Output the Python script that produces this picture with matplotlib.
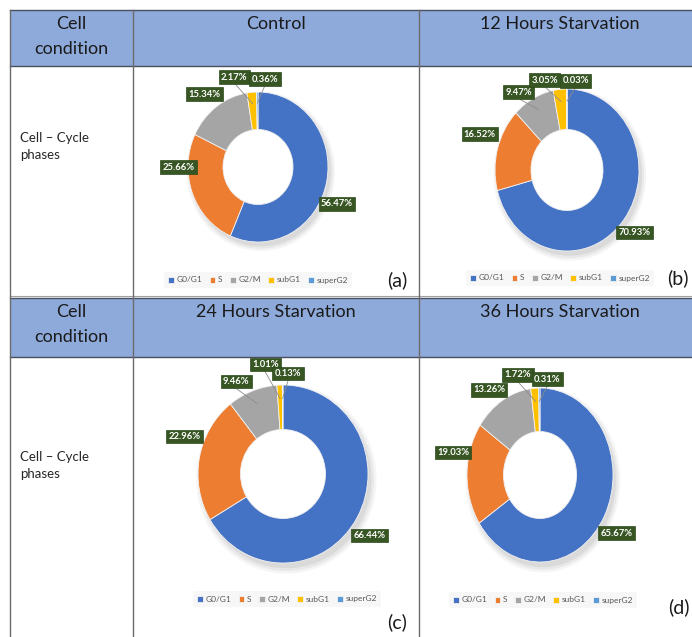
import numpy as np
import matplotlib
matplotlib.use('Agg')
from matplotlib import pyplot as plt
from matplotlib.patches import Rectangle, Ellipse

plt.rcParams['font.family'] = ['Lato', 'DejaVu Sans']

# cell-cycle phase distribution (%), one list per condition
phases = ['G0/G1', 'S', 'G2/M', 'subG1', 'superG2']
control = [56.47, 25.66, 15.34, 2.17, 0.36]
starv12 = [70.93, 16.52, 9.47, 3.05, 0.03]
starv24 = [66.44, 22.96, 9.46, 1.01, 0.13]
starv36 = [65.67, 19.03, 13.26, 1.72, 0.31]
titles = ['Control', '12 Hours Starvation', '24 Hours Starvation', '36 Hours Starvation']
tags = ['(a)', '(b)', '(c)', '(d)']

colors = ['#4472C4', '#ED7D31', '#A5A5A5', '#FFC000', '#5B9BD5']
W, H = 692, 637

# panel layout in pixels: donut centre, radii (x, y), legend centre, tag position
panels = [
    dict(c=(258, 167), r=(70, 75), leg=(258, 280), tag=(397, 280)),
    dict(c=(567, 170), r=(72, 81), leg=(560, 278), tag=(678, 278)),
    dict(c=(283, 474), r=(85, 89), leg=(287, 599), tag=(397, 622)),
    dict(c=(540, 475), r=(73, 87), leg=(543, 600), tag=(679, 607)),
]
# data-label placement, in units of the donut radius
label_pos = [
    [(1.13, -0.49), (-1.14, 0.0), (-0.76, 0.97), (-0.34, 1.20), (0.10, 1.17)],
    [(0.94, -0.77), (-1.21, 0.44), (-0.67, 0.96), (-0.31, 1.11), (0.12, 1.10)],
    [(1.02, -0.69), (-1.16, 0.42), (-0.55, 1.04), (-0.21, 1.23), (0.06, 1.13)],
    [(1.05, -0.67), (-1.19, 0.26), (-0.70, 0.98), (-0.30, 1.15), (0.10, 1.10)],
]


def px_rect(x, y, w, h):
    return [x / W, 1 - (y + h) / H, w / W, h / H]


fig = plt.figure(figsize=(W / 100, H / 100), dpi=100)
fig.patch.set_facecolor('white')

# ---- table background / grid ----
tb = fig.add_axes([0, 0, 1, 1])
tb.set_xlim(0, W)
tb.set_ylim(H, 0)
tb.axis('off')

hdr = '#8EAADB'
line = '#4a4f5c'
for y0, y1 in [(10, 66), (298, 357)]:
    tb.add_patch(Rectangle((10, y0), W - 10, y1 - y0, facecolor=hdr, edgecolor='none'))
    tb.plot([10, W], [y0, y0], color=line, lw=1.0)
    tb.plot([10, W], [y1, y1], color=line, lw=1.0)
tb.plot([10, W], [296, 296], color='#a0a0a0', lw=0.8)
for x in [10, 133, 419]:
    tb.plot([x, x], [10, H], color='#6b6b6b', lw=1.0)

for yc, (t1, t2) in zip([10, 298], [(titles[0], titles[1]), (titles[2], titles[3])]):
    tb.text(71, yc + 14, 'Cell', ha='center', va='center', fontsize=13, color='#1a1a1a')
    tb.text(71, yc + 39, 'condition', ha='center', va='center', fontsize=13, color='#1a1a1a')
    tb.text(276, yc + 14, t1, ha='center', va='center', fontsize=13, color='#1a1a1a')
    tb.text(560, yc + 14, t2, ha='center', va='center', fontsize=13, color='#1a1a1a')

for yc in [144, 463]:
    tb.text(20, yc - 6, 'Cell \u2013 Cycle', ha='left', va='center', fontsize=9.5, color='#262626')
    tb.text(20, yc + 11, 'phases', ha='left', va='center', fontsize=9.5, color='#262626')

# ---- donuts ----
data = [control, starv12, starv24, starv36]
for k, (vals, p) in enumerate(zip(data, panels)):
    cx, cy = p['c']
    rx, ry = p['r']
    ax = fig.add_axes(px_rect(cx - 2 * rx, cy - 2 * ry, 4 * rx, 4 * ry))

    # soft shadow under the ring
    for s, a in [(1.06, 0.05), (1.03, 0.07), (1.0, 0.08)]:
        ax.add_patch(Ellipse((0.04, -0.06), 2 * s, 2 * s, facecolor='#404040',
                             edgecolor='none', alpha=a, zorder=0))
    wedges, _ = ax.pie(vals, colors=colors, startangle=90, counterclock=False,
                       radius=1.0, wedgeprops=dict(width=0.5, edgecolor='#f2f2f2', linewidth=0.6))
    for w in wedges:
        w.set_zorder(2)
    ax.add_patch(Ellipse((0, 0), 1.0, 1.0, facecolor='white', edgecolor='none', zorder=1.5))
    ax.set_aspect('auto')
    ax.set_xlim(-2, 2)
    ax.set_ylim(-2, 2)
    ax.axis('off')

    # data labels
    for i, (v, w) in enumerate(zip(vals, wedges)):
        lx, ly = label_pos[k][i]
        if v < 10:
            th = np.deg2rad((w.theta1 + w.theta2) / 2)
            ax.plot([lx, 0.85 * np.cos(th)], [ly - 0.08, 0.85 * np.sin(th)],
                    color='#8c8c8c', lw=0.6, zorder=3)
        ax.text(lx, ly, f'{v:.2f}%', ha='center', va='center', fontsize=6.8,
                fontweight='bold', color='white', zorder=5,
                bbox=dict(boxstyle='square,pad=0.25', facecolor='#375623',
                          edgecolor='#2b4a1a', linewidth=0.5))

    # legend
    lx, ly = p['leg']
    leg = ax.legend(wedges, phases, loc='center', ncol=5,
                    bbox_to_anchor=(lx / W, 1 - ly / H), bbox_transform=fig.transFigure,
                    fontsize=6, frameon=True, handlelength=0.7, handleheight=0.7,
                    handletextpad=0.3, columnspacing=0.9, borderpad=0.5)
    leg.get_frame().set_facecolor('#f6f6f6')
    leg.get_frame().set_edgecolor('none')
    for t in leg.get_texts():
        t.set_color('#595959')

    tx, ty = p['tag']
    tb.text(tx, ty, tags[k], ha='center', va='center', fontsize=14, color='#1a1a1a')

fig.savefig('out.png', dpi=100)
